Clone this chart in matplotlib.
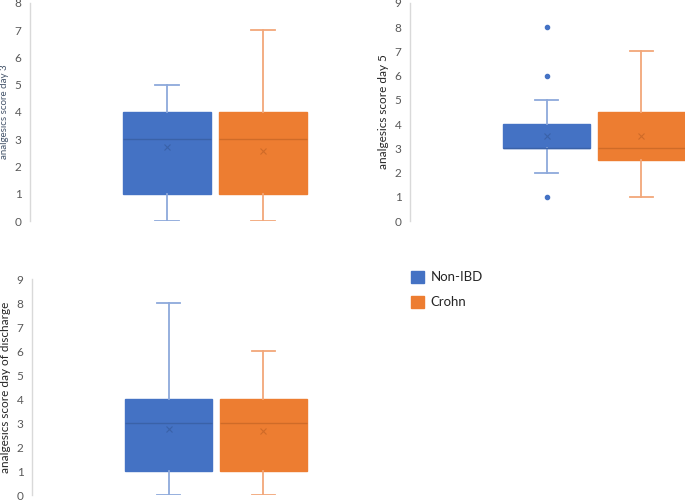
import matplotlib
matplotlib.use("Agg")
import matplotlib.pyplot as plt
from matplotlib.patches import Patch

plt.rcParams['font.family'] = ['Lato', 'DejaVu Sans']

groups = ["Non-IBD", "Crohn"]
colors = ["#4472C4", "#ED7D31"]
whisker_colors = ["#8DA9DB", "#F2A779"]
median_colors = ["#3A62A8", "#CF6B28"]

# Day 3
day3_stats = [
    dict(whislo=0, q1=1, med=3, q3=4, whishi=5, mean=2.73, fliers=[]),
    dict(whislo=0, q1=1, med=3, q3=4, whishi=7, mean=2.58, fliers=[]),
]
# Day 5
day5_stats = [
    dict(whislo=2, q1=3, med=3, q3=4, whishi=5, mean=3.52, fliers=[1, 6, 8]),
    dict(whislo=1, q1=2.5, med=3, q3=4.5, whishi=7, mean=3.5, fliers=[]),
]
# Day of discharge
discharge_stats = [
    dict(whislo=0, q1=1, med=3, q3=4, whishi=8, mean=2.76, fliers=[]),
    dict(whislo=0, q1=1, med=3, q3=4, whishi=6, mean=2.67, fliers=[]),
]

ylabels = ["analgesics score day 3", "analgesics score day 5",
           "analgesics score day of discharge"]
ymaxes = [8, 9, 9]

W, H = 685, 501
fig = plt.figure(figsize=(W / 100, H / 100), dpi=100)

def px_axes(left, top, right, bottom):
    return fig.add_axes([left / W, 1 - bottom / H, (right - left) / W, (bottom - top) / H])

offsets = [-0.258, 0.258]
bw = 0.475

def draw(ax, stats, ymax, ylabel, lab_color, lab_size):
    for i, s in enumerate(stats):
        s = dict(s)
        s['label'] = groups[i]
        ax.bxp([s], positions=[offsets[i]], widths=bw, patch_artist=True,
               showmeans=True, showfliers=True,
               boxprops=dict(facecolor=colors[i], edgecolor=colors[i], linewidth=1),
               medianprops=dict(color=median_colors[i], linewidth=1),
               whiskerprops=dict(color=whisker_colors[i], linewidth=1.3),
               capprops=dict(color=whisker_colors[i], linewidth=1.3),
               meanprops=dict(marker='x', markeredgecolor=median_colors[i],
                              markersize=5, markeredgewidth=0.8),
               flierprops=dict(marker='o', markerfacecolor=colors[i],
                               markeredgecolor=colors[i], markersize=3),
               capwidths=0.13)
    ax.set_xlim(-1, 1)
    ax.set_ylim(0, ymax)
    ax.set_yticks(range(0, ymax + 1))
    ax.set_xticks([])
    for sp in ['top', 'right', 'bottom']:
        ax.spines[sp].set_visible(False)
    ax.spines['left'].set_color('#D9D9D9')
    ax.spines['left'].set_linewidth(1)
    ax.tick_params(axis='y', length=0, labelsize=8.5, labelcolor='#595959', pad=6)
    ax.set_ylabel(ylabel, fontsize=lab_size, color=lab_color, labelpad=4)
    ax.set_facecolor('none')

ax1 = px_axes(30, 3, 400, 221)
draw(ax1, day3_stats, ymaxes[0], ylabels[0], '#44546A', 7)
ax2 = px_axes(410, 3, 778, 221)
draw(ax2, day5_stats, ymaxes[1], ylabels[1], '#262626', 8.5)
ax3 = px_axes(32, 279, 400, 495)
draw(ax3, discharge_stats, ymaxes[2], ylabels[2], '#262626', 8.5)

handles = [Patch(facecolor=colors[i], edgecolor=colors[i], label=groups[i]) for i in range(2)]
fig.legend(handles=handles, loc='upper left', bbox_to_anchor=(399 / W, 1 - 259 / H),
           frameon=False, fontsize=9.5, handlelength=1.0, handleheight=1.0,
           labelspacing=0.95, handletextpad=0.5, labelcolor='#262626')

fig.savefig("out.png", dpi=100)
